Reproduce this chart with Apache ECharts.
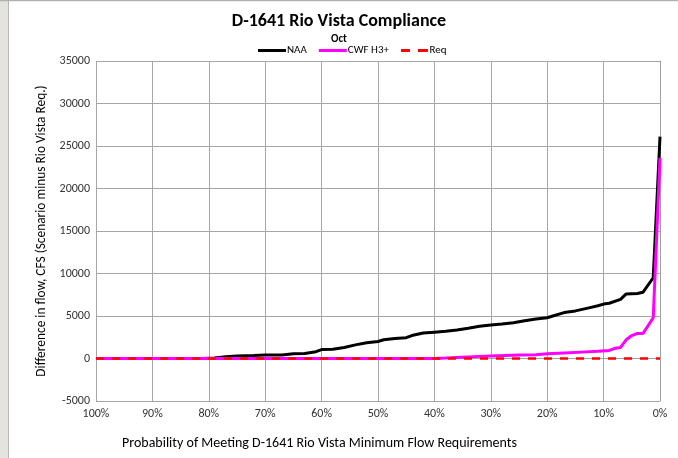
<!DOCTYPE html>
<html><head><meta charset="utf-8">
<script src="https://cdn.jsdelivr.net/npm/echarts@6/dist/echarts.min.js"></script>
<style>html,body{margin:0;padding:0;background:#fff}#c{width:678px;height:458px}</style>
</head><body><div id="c"></div>
<script>
const xTicks = [100, 90, 80, 70, 60, 50, 40, 30, 20, 10, 0];
const naaProb = [100,81,79,77,75,72,70,67,65,63,61,60,58,56,54,52,50,49,47,45,44,42,40,38,36,34,32,30,28,26,24,22,20,19,17,15,13,11,10,9,7,6,4,3,1.2,0];
const naaVal  = [0,0,50,200,300,350,400,400,550,600,800,1050,1100,1300,1600,1850,2000,2200,2350,2450,2700,3000,3100,3200,3350,3550,3800,3950,4050,4200,4450,4650,4800,5000,5400,5600,5900,6200,6400,6500,6950,7600,7650,7800,9500,26100];
const cwfProb = [100,40,38,35,32,30,25,22,20,17,14,11,9,8,7,6,5,4,3,1.2,0];
const cwfVal  = [0,0,50,150,250,300,400,450,550,650,750,850,950,1200,1300,2200,2700,2950,2950,4800,23600];
const reqProb = [100,0];
const reqVal  = [0,0];

const chart = echarts.init(document.getElementById('c'), null, {renderer:'canvas'});
const zip = (a,b)=>a.map((v,i)=>[v,b[i]]);
const font = 'Carlito, Calibri, "Liberation Sans", "Open Sans", sans-serif';
const lineIcon = 'path://M0,0H28V3H0Z';
const dashIcon = 'path://M0,0H9V3H0Z M17,0H27V3H17Z';
chart.setOption({
  animation:false,
  backgroundColor:'#fff',
  graphic:[
    {type:'rect', left:0, top:0, shape:{width:8,height:458}, style:{fill:'#e4e3df'}, silent:true},
    {type:'line', shape:{x1:8.5,y1:0,x2:8.5,y2:458}, style:{stroke:'#b8b8b8',lineWidth:1}, silent:true},
    {type:'line', shape:{x1:0,y1:0.5,x2:678,y2:0.5}, style:{stroke:'#b0b0b0',lineWidth:1.5}, silent:true}
  ],
  title:[
    {text:'D-1641 Rio Vista Compliance', left:'center', top:7,
     textStyle:{fontFamily:font, fontSize:18, fontWeight:'bold', color:'#000'}},
    {text:'Oct', left:'center', top:29,
     textStyle:{fontFamily:font, fontSize:11, fontWeight:'bold', color:'#000'}},
    {text:'Probability of Meeting D-1641 Rio Vista Minimum Flow Requirements', left:117, top:431,
     textStyle:{fontFamily:font, fontSize:14, fontWeight:'normal', color:'#000'}}
  ],
  legend:{
    top:40, left:253, itemWidth:28, itemHeight:3, itemGap:12,
    textStyle:{fontFamily:font, fontSize:11, color:'#000', padding:[0,0,0,-4]},
    data:[{name:'NAA', icon:lineIcon},{name:'CWF H3+', icon:lineIcon},{name:'Req', icon:dashIcon}]
  },
  grid:{left:96, top:61, width:564, height:340, containLabel:false, show:false},
  xAxis:{
    type:'value', inverse:true, min:0, max:100, interval:10,
    axisLine:{show:true, lineStyle:{color:'#a0a0a0'}},
    axisTick:{show:false},
    splitLine:{show:true, lineStyle:{color:'#a6a6a6', width:1}},
    axisLabel:{fontFamily:font, fontSize:12, color:'#333', margin:7, formatter:v=>v+'%'}
  },
  yAxis:{
    type:'value', min:-5000, max:35000, interval:5000,
    axisLine:{show:true, lineStyle:{color:'#a0a0a0'}},
    axisTick:{show:false},
    splitLine:{show:true, lineStyle:{color:'#a6a6a6', width:1}},
    axisLabel:{fontFamily:font, fontSize:12, color:'#333', margin:6, formatter:v=>String(v)},
    name:'Difference in flow, CFS (Scenario minus Rio Vista Req.)',
    nameLocation:'middle', nameGap:48,
    nameTextStyle:{fontFamily:font, fontSize:13.4, color:'#000'}
  },
  series:[
    {name:'NAA', type:'line', symbol:'none', data:zip(naaProb,naaVal),
     lineStyle:{color:'#000', width:3}, itemStyle:{color:'#000'}, z:3},
    {name:'CWF H3+', type:'line', symbol:'none', data:zip(cwfProb,cwfVal),
     lineStyle:{color:'#ff00ff', width:3}, itemStyle:{color:'#ff00ff'}, z:4},
    {name:'Req', type:'line', symbol:'none', data:zip(reqProb,reqVal),
     lineStyle:{color:'#ff0000', width:2.5, type:[8,8]}, itemStyle:{color:'#ff0000'}, z:5}
  ]
});
</script></body></html>
